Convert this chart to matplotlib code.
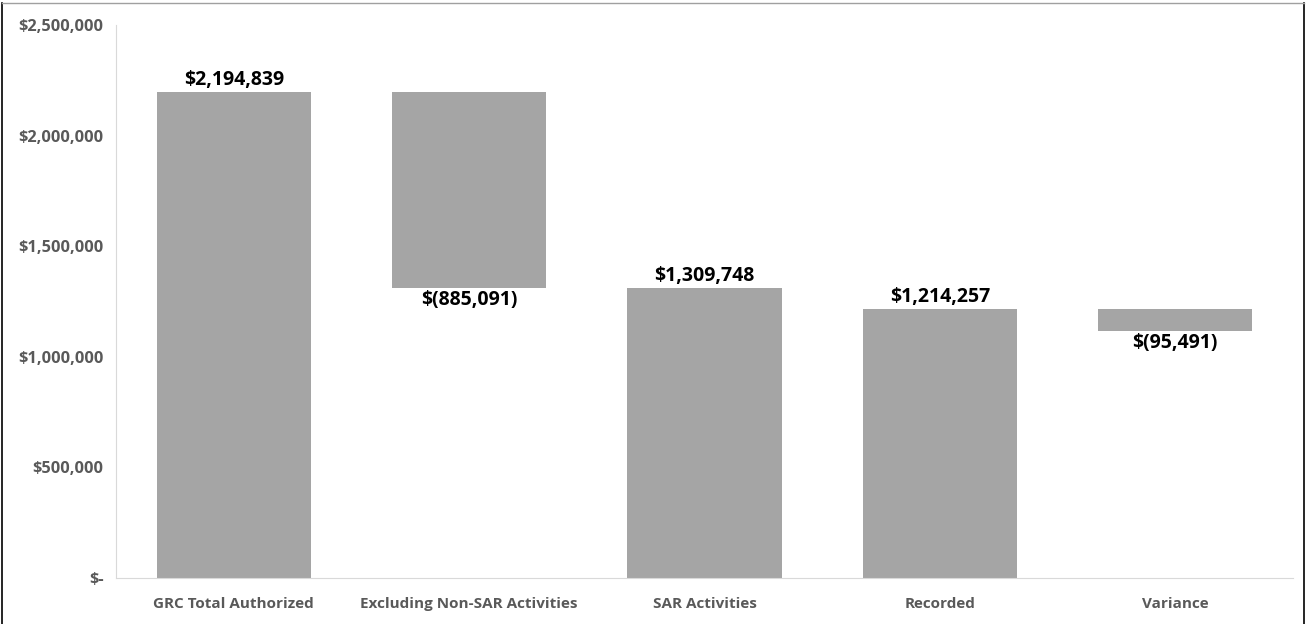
import numpy as np
import matplotlib.pyplot as plt
from matplotlib.lines import Line2D
from matplotlib.ticker import FuncFormatter

# Waterfall steps: totals stand on zero, changes float off the running total
categories = ["GRC Total Authorized", "Excluding Non-SAR Activities",
              "SAR Activities", "Recorded", "Variance"]
amounts = [2194839, -885091, 1309748, 1214257, -95491]
is_total = [True, False, True, True, False]
y_ticks = [0, 500000, 1000000, 1500000, 2000000, 2500000]

BAR_GREY = "#A5A5A5"
TEXT_GREY = "#595959"
AXIS_GREY = "#D9D9D9"

plt.rcParams['font.family'] = ['Open Sans', 'DejaVu Sans']


def money(v):
    if v == 0:
        return "$-"
    if v < 0:
        return "$({:,.0f})".format(-v)
    return "${:,.0f}".format(v)


# work out where each bar starts and ends
bottoms = []
heights = []
running = 0
for amt, tot in zip(amounts, is_total):
    if tot:
        bottoms.append(0)
        heights.append(amt)
        running = amt
    else:
        bottoms.append(running + min(amt, 0))
        heights.append(abs(amt))
        running = running + amt

fig = plt.figure(figsize=(13.14, 6.24), dpi=100)
ax = fig.add_axes([0.0883, 0.0737, 0.8957, 0.8863])

x = np.arange(len(categories))
ax.bar(x, heights, bottom=bottoms, width=0.655, color=BAR_GREY, zorder=2)

for xi, amt, b, h in zip(x, amounts, bottoms, heights):
    if amt >= 0:
        ax.text(xi, b + h + 10000, money(amt), ha='center', va='bottom',
                fontsize=14, fontweight='bold', color='black')
    else:
        ax.text(xi, b - 10000, money(amt), ha='center', va='top',
                fontsize=14, fontweight='bold', color='black')

ax.set_xlim(-0.5, len(categories) - 0.5)
ax.set_ylim(0, 2500000)
ax.set_yticks(y_ticks)
ax.yaxis.set_major_formatter(FuncFormatter(lambda v, p: money(v)))
ax.set_xticks(x)
ax.set_xticklabels(categories)
ax.tick_params(axis='both', length=0, labelcolor=TEXT_GREY)
ax.tick_params(axis='y', pad=9, labelsize=11.8)
ax.tick_params(axis='x', pad=14, labelsize=11)
for lab in ax.get_xticklabels() + ax.get_yticklabels():
    lab.set_fontweight('bold')

for side in ['top', 'right']:
    ax.spines[side].set_visible(False)
ax.spines['left'].set_color(AXIS_GREY)
ax.spines['bottom'].set_color(AXIS_GREY)

# outer frame around the chart area
fig.add_artist(Line2D([0.0015, 0.0015], [0, 0.995], color='black', lw=1.2))
fig.add_artist(Line2D([0.9925, 0.9925], [0, 0.995], color='black', lw=1.2))
fig.add_artist(Line2D([0.0015, 0.9925], [0.995, 0.995], color='#A0A0A0', lw=1))

fig.savefig("out.png", dpi=100)
